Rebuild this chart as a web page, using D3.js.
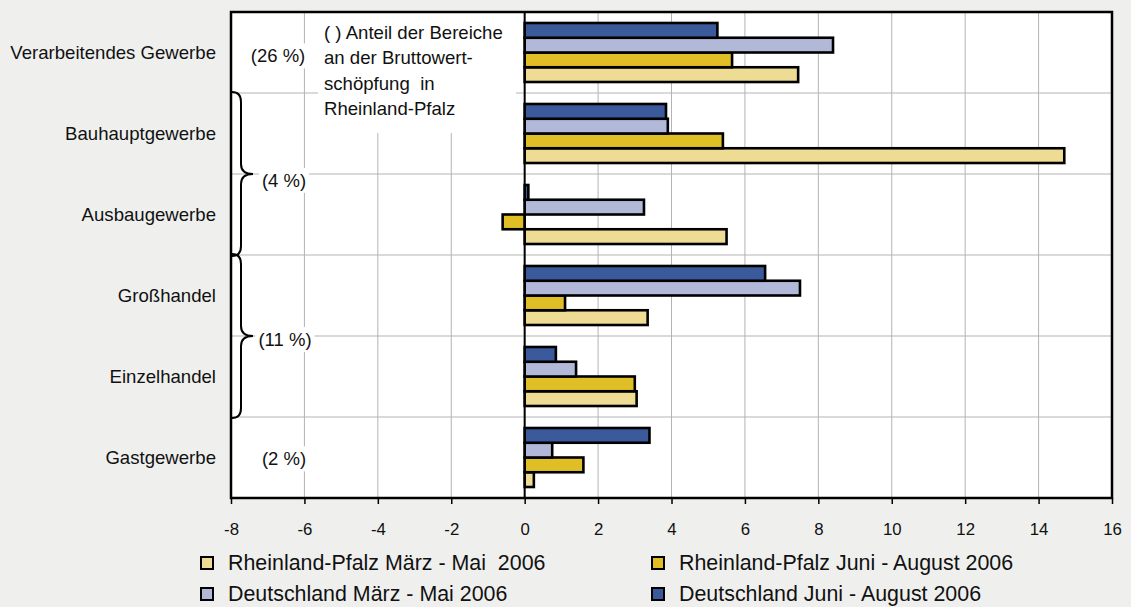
<!DOCTYPE html>
<html>
<head>
<meta charset="utf-8">
<script src="https://cdn.jsdelivr.net/npm/d3@7"></script>
<style>
  html, body { margin: 0; padding: 0; background: #eff0ee; }
  svg { display: block; font-family: "Liberation Sans", Arial, Helvetica, sans-serif; }
</style>
</head>
<body>
<svg id="chart" width="1131" height="607"></svg>
<script>
// Wirtschaftsbereiche (von oben nach unten)
const categories = [
  "Verarbeitendes Gewerbe",
  "Bauhauptgewerbe",
  "Ausbaugewerbe",
  "Großhandel",
  "Einzelhandel",
  "Gastgewerbe"
];

// Veränderung in % je Bereich
const rpMarMai   = [7.45, 14.7, 5.5, 3.35, 3.05, 0.25];
const rpJunAug   = [5.65, 5.4, -0.6, 1.1, 3.0, 1.6];
const deMarMai   = [8.4, 3.9, 3.25, 7.5, 1.4, 0.75];
const deJunAug   = [5.25, 3.85, 0.1, 6.55, 0.85, 3.4];

const seriesNames = [
  "Rheinland-Pfalz März - Mai  2006",
  "Rheinland-Pfalz Juni - August 2006",
  "Deutschland März - Mai 2006",
  "Deutschland Juni - August 2006"
];
const seriesValues = [rpMarMai, rpJunAug, deMarMai, deJunAug];
const seriesColors = ["#eedc95", "#dfbe26", "#b1b8d8", "#3a5a9b"];

const xTicks = [-8, -6, -4, -2, 0, 2, 4, 6, 8, 10, 12, 14, 16];

// Anteil an der Bruttowertschöpfung: Beschriftung und zugehörige Bereiche
const shareLabels = ["(26 %)", "(4 %)", "(11 %)", "(2 %)"];
const shareGroups = [[0, 0], [1, 2], [3, 4], [5, 5]];

const noteLines = [
  "( ) Anteil der Bereiche",
  "an der Bruttowert-",
  "schöpfung  in",
  "Rheinland-Pfalz"
];

const svg = d3.select("#chart");
const plot = { left: 231, right: 1112, top: 12, bottom: 498 };

const x = d3.scaleLinear().domain([-8, 16]).range([plot.left, plot.right]);
const y0 = d3.scaleBand().domain(categories).range([plot.top, plot.bottom]).padding(0);
// Reihenfolge im Balkenbündel: Deutschland Juni-Aug oben, RP März-Mai unten
const y1 = d3.scaleBand()
  .domain([3, 2, 1, 0])
  .range([0, y0.bandwidth()])
  .paddingInner(0)
  .paddingOuter(0.745);

// Zeichenfläche
svg.append("rect")
  .attr("x", plot.left).attr("y", plot.top)
  .attr("width", plot.right - plot.left).attr("height", plot.bottom - plot.top)
  .attr("fill", "#ffffff");

// Gitternetz
const grid = svg.append("g");
grid.selectAll("line.v").data(xTicks.slice(1, -1)).join("line")
  .attr("x1", d => x(d)).attr("x2", d => x(d))
  .attr("y1", plot.top).attr("y2", plot.bottom)
  .attr("stroke", "#b3b3b3").attr("stroke-width", 1);
grid.selectAll("line.h").data(categories.slice(1)).join("line")
  .attr("x1", plot.left).attr("x2", plot.right)
  .attr("y1", d => y0(d)).attr("y2", d => y0(d))
  .attr("stroke", "#b3b3b3").attr("stroke-width", 1);

// Hinweistext mit weißem Hintergrund
svg.append("rect")
  .attr("x", 318).attr("y", plot.top + 1)
  .attr("width", 198).attr("height", 120)
  .attr("fill", "#ffffff");
svg.append("g").selectAll("text").data(noteLines).join("text")
  .attr("x", 324)
  .attr("y", (d, i) => 38.5 + i * 25.5)
  .attr("font-size", 18.6)
  .attr("fill", "#111")
  .style("white-space", "pre")
  .text(d => d);

// Anteilsangaben
const shareG = svg.append("g");
shareLabels.forEach((lab, i) => {
  const [a, b] = shareGroups[i];
  const cy = (y0(categories[a]) + y0(categories[b]) + y0.bandwidth()) / 2;
  const cx = i === 2 ? 285 : (i === 0 ? 278 : 284);
  const t = shareG.append("text")
    .attr("x", cx).attr("y", cy + (i === 1 ? 8 : (i === 3 ? 3 : 5)))
    .attr("text-anchor", "middle")
    .attr("dominant-baseline", "middle")
    .attr("font-size", 18.5)
    .attr("fill", "#111")
    .text(lab);
  const bb = t.node().getBBox();
  shareG.insert("rect", "text")
    .attr("x", bb.x - 3).attr("y", bb.y - 2)
    .attr("width", bb.width + 6).attr("height", bb.height + 4)
    .attr("fill", "#ffffff");
});

// Balken
const bars = svg.append("g");
seriesValues.forEach((vals, s) => {
  bars.selectAll(null).data(vals).join("rect")
    .attr("x", d => x(Math.min(0, d)))
    .attr("y", (d, i) => y0(categories[i]) + y1(s))
    .attr("width", d => Math.abs(x(d) - x(0)))
    .attr("height", y1.bandwidth())
    .attr("fill", seriesColors[s])
    .attr("stroke", "#000")
    .attr("stroke-width", 2.6);
});

// Nulllinie
svg.append("line")
  .attr("x1", x(0)).attr("x2", x(0))
  .attr("y1", plot.top).attr("y2", plot.bottom)
  .attr("stroke", "#000").attr("stroke-width", 2);

// Rahmen
svg.append("rect")
  .attr("x", plot.left).attr("y", plot.top)
  .attr("width", plot.right - plot.left).attr("height", plot.bottom - plot.top)
  .attr("fill", "none").attr("stroke", "#000").attr("stroke-width", 2.5);

// Klammern für zusammengefasste Bereiche
function brace(yTop, yBot) {
  const x0 = plot.left + 1, xv = 241, xt = 253, r = 10;
  const ym = (yTop + yBot) / 2;
  return `M${x0},${yTop} Q${xv},${yTop} ${xv},${yTop + r} L${xv},${ym - r} ` +
         `Q${xv},${ym} ${xt},${ym} Q${xv},${ym} ${xv},${ym + r} ` +
         `L${xv},${yBot - r} Q${xv},${yBot} ${x0},${yBot}`;
}
shareGroups.filter(([a, b]) => a !== b).forEach(([a, b]) => {
  svg.append("path")
    .attr("d", brace(y0(categories[a]) - 1, y0(categories[b]) + y0.bandwidth() + 1))
    .attr("fill", "none").attr("stroke", "#000").attr("stroke-width", 2);
});

// x-Achse
const xAxis = d3.axisBottom(x).tickValues(xTicks).tickSize(6).tickPadding(19).tickFormat(d3.format("d"));
const gx = svg.append("g").attr("transform", `translate(0,${plot.bottom})`).call(xAxis);
gx.select(".domain").remove();
gx.selectAll(".tick line").attr("stroke", "#000").attr("stroke-width", 1.5);
gx.selectAll(".tick text")
  .attr("font-size", 16.8).attr("fill", "#111")
  .attr("font-family", "Liberation Sans, Arial, sans-serif")
  .text(d => d < 0 ? "-" + Math.abs(d) : String(d));

// Kategorienbeschriftung
svg.append("g").selectAll("text").data(categories).join("text")
  .attr("x", 216)
  .attr("y", d => y0(d) + y0.bandwidth() / 2 + 2)
  .attr("text-anchor", "end")
  .attr("dominant-baseline", "middle")
  .attr("font-size", 18.6)
  .attr("fill", "#111")
  .text(d => d);

// Legende
const legendPos = [[201, 563], [652, 563], [201, 594], [652, 594]];
const legend = svg.append("g");
seriesNames.forEach((name, s) => {
  const [lx, ly] = legendPos[s];
  legend.append("rect")
    .attr("x", lx).attr("y", ly - 6)
    .attr("width", 12).attr("height", 12)
    .attr("fill", seriesColors[s]).attr("stroke", "#000").attr("stroke-width", 2);
  legend.append("text")
    .attr("x", lx + 27).attr("y", ly + 1)
    .attr("dominant-baseline", "middle")
    .attr("font-size", 21.4)
    .attr("fill", "#111")
    .style("white-space", "pre")
    .text(name);
});
</script>
</body>
</html>
